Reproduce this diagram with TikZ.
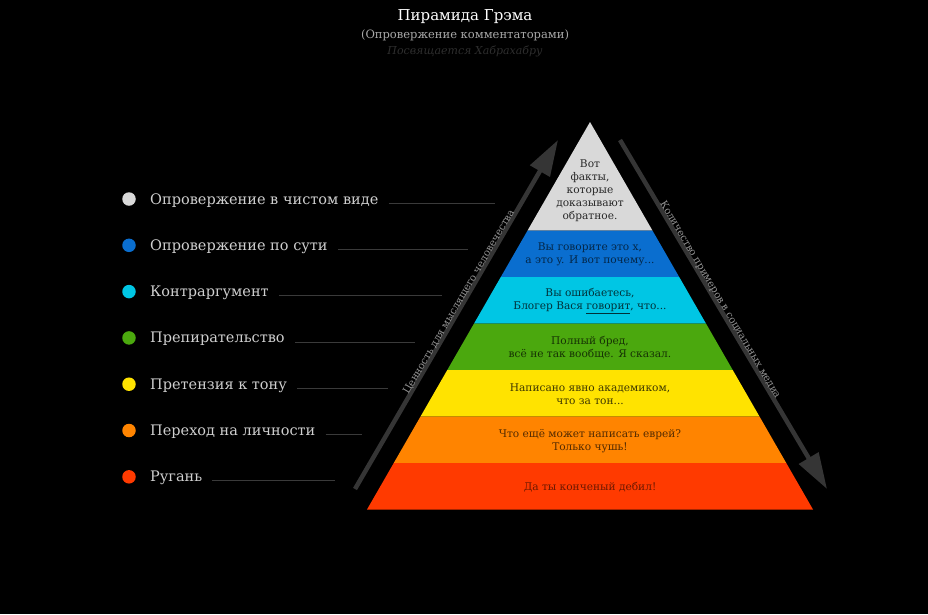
\documentclass[tikz,border=0pt]{standalone}
\usepackage{fontspec}
\setmainfont{DejaVu Serif}
\usetikzlibrary{arrows.meta}
\definecolor{lgray}{HTML}{D9D9D9}
\definecolor{pblue}{HTML}{0A6ECF}
\definecolor{pcyan}{HTML}{00C6E4}
\definecolor{pgreen}{HTML}{4BA80E}
\definecolor{pyellow}{HTML}{FFE300}
\definecolor{porange}{HTML}{FF8400}
\definecolor{pred}{HTML}{FF3A00}
\definecolor{arrgray}{HTML}{353535}
\definecolor{leggray}{HTML}{CFCFCF}
\definecolor{linegray}{HTML}{3A3A3A}
\definecolor{subgray}{HTML}{A8A8A8}
\definecolor{dedgray}{HTML}{2E2E2E}
\definecolor{arrtxt}{HTML}{959595}
\tikzset{
  titletext/.style={text=white, font=\fontsize{15}{18}\selectfont, inner sep=0pt},
  subtext/.style={text=subgray, font=\fontsize{11.5}{14}\selectfont, inner sep=0pt},
  dedtext/.style={text=dedgray, font=\fontsize{11}{13}\selectfont\itshape, inner sep=0pt},
  ltext/.style={align=center, inner sep=0pt, font=\fontsize{10.6}{13}\selectfont},
  legtext/.style={text=leggray, font=\fontsize{14.5}{17}\selectfont, inner sep=0pt, anchor=base west},
  legdot/.style={circle, minimum size=13.5pt, inner sep=0pt},
  legline/.style={draw=linegray, line width=0.8pt},
  bigarrow/.style={draw=arrgray, line width=4.5pt, -{Triangle[length=36pt,width=22pt]}},
  arrtext/.style={text=arrtxt, font=\fontsize{10}{12}\selectfont, inner xsep=0pt, inner ysep=-2.5pt}
}
\begin{document}
\begin{tikzpicture}[x=1pt,y=-1pt]
\fill[black] (0,0) rectangle (928,614);
\useasboundingbox (0,0) rectangle (928,614);

% title
\node[titletext] (title) at (465,17) {Пирамида Грэма};
\node[subtext] (subtitle) at (465,35) {(Опровержение комментаторами)};
\node[dedtext] (dedic) at (465,51) {Посвящается Хабрахабру};

% pyramid layers
\foreach \yt/\yb/\c in {122/230.5/lgray, 230.5/277/pblue, 277/323.5/pcyan, 323.5/370/pgreen, 370/416.5/pyellow, 416.5/463/porange, 463/509.5/pred}{
  \pgfmathsetmacro\wt{0.5755*(\yt-122)}
  \pgfmathsetmacro\wb{0.5755*(\yb-122)}
  \fill[\c] ({590-\wt},\yt) -- ({590+\wt},\yt) -- ({590+\wb},\yb) -- ({590-\wb},\yb) -- cycle;
}

% layer texts
\node[ltext, text=lgray!18!black] (lay1) at (590,191) {Вот\\факты,\\которые\\доказывают\\обратное.};
\node[ltext, text=pblue!35!black] (lay2) at (590,254) {Вы говорите это x,\\а это y. И вот почему...};
\node[ltext, text=pcyan!25!black] (lay3) at (590,301) {Вы ошибаетесь,\\Блогер Вася \underline{говорит}, что...};
\node[ltext, text=pgreen!30!black] (lay4) at (590,348) {Полный бред,\\всё не так вообще. Я сказал.};
\node[ltext, text=pyellow!24!black] (lay5) at (590,394) {Написано явно академиком,\\что за тон...};
\node[ltext, text=porange!32!black] (lay6) at (590,441) {Что ещё может написать еврей?\\Только чушь!};
\node[ltext, text=pred!42!black] (lay7) at (590,487) {Да ты конченый дебил!};

% legend
\foreach \i/\c/\t/\xe in {0/lgray/Опровержение в чистом виде/495, 1/pblue/Опровержение по сути/468, 2/pcyan/Контраргумент/442, 3/pgreen/Препирательство/415, 4/pyellow/Претензия к тону/388, 5/porange/Переход на личности/362, 6/pred/Ругань/335}{
  \node[legdot, fill=\c] (dot\i) at (129,{199+46.3*\i}) {};
  \node[legtext] (leg\i) at (150,{204+46.3*\i}) {\t};
  \coordinate (lend\i) at (\xe,{203+46.3*\i});
  \draw[legline] ([xshift=10pt]leg\i.base east |- lend\i) -- (lend\i);
}

% arrows
\coordinate (la0) at (355,489);
\coordinate (la1) at (558,140);
\coordinate (ra0) at (620,140);
\coordinate (ra1) at (827,489);
\draw[bigarrow] (la0) -- (la1) node[arrtext, sloped, pos=0.53, anchor=south] (latext) {Ценность для мыслящего человечества};
\draw[bigarrow] (ra0) -- (ra1) node[arrtext, sloped, pos=0.465, anchor=south] (ratext) {Количество примеров в социальных медиа};
\end{tikzpicture}
\end{document}
